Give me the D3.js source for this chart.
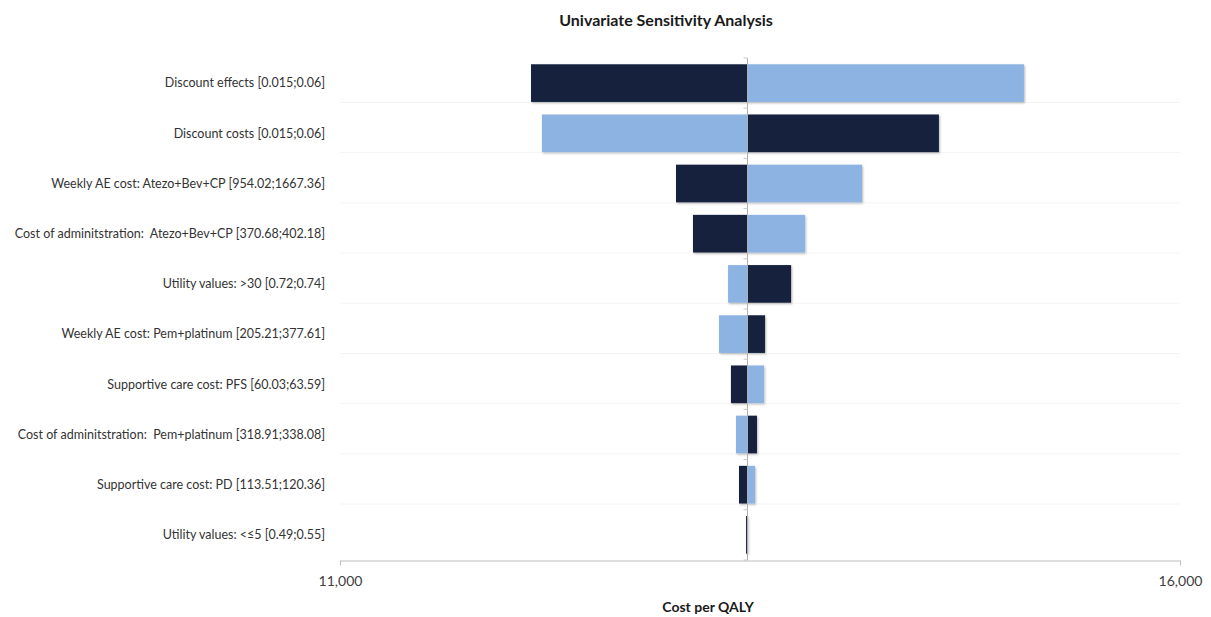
<!DOCTYPE html>
<html>
<head>
<meta charset="utf-8">
<script src="https://cdn.jsdelivr.net/npm/d3@7"></script>
<style>
  html, body { margin: 0; padding: 0; background: #fff; }
  svg { display: block; font-family: Lato, "Open Sans", sans-serif; }
  .cat { white-space: pre; }
</style>
</head>
<body>
<svg id="chart" width="1211" height="617"></svg>
<script>
// Parameters and their tested ranges
const parameters = [
  "Discount effects [0.015;0.06]",
  "Discount costs [0.015;0.06]",
  "Weekly AE cost: Atezo+Bev+CP [954.02;1667.36]",
  "Cost of adminitstration:  Atezo+Bev+CP [370.68;402.18]",
  "Utility values: >30 [0.72;0.74]",
  "Weekly AE cost: Pem+platinum [205.21;377.61]",
  "Supportive care cost: PFS [60.03;63.59]",
  "Cost of adminitstration:  Pem+platinum [318.91;338.08]",
  "Supportive care cost: PD [113.51;120.36]",
  "Utility values: <\u22645 [0.49;0.55]"
];

// Base-case cost per QALY
const baseCase = 13425;

// Cost per QALY at the lower bound of each range
const lowInput = [12137, 14565, 13000, 13101, 13685, 13530, 13327, 13482, 13375, 13417];

// Cost per QALY at the upper bound of each range
const highInput = [15071, 12202, 14107, 13768, 13310, 13256, 13524, 13357, 13470, 13428];

const xTicks = [11000, 16000];

const svg = d3.select("#chart");

const x = d3.scaleLinear().domain([11000, 16000]).range([340, 1180]);
const y = d3.scaleBand().domain(parameters).range([58, 560])
  .paddingInner(0.25).paddingOuter(0.125);

const darkColor = "#13243e";
const lightColor = "#8db3e2";

const defs = svg.append("defs");
const f = defs.append("filter").attr("id", "shadow")
  .attr("x", "-5%").attr("y", "-10%").attr("width", "110%").attr("height", "125%");
f.append("feDropShadow").attr("dx", 1).attr("dy", 1.2)
  .attr("stdDeviation", 0.8).attr("flood-color", "#000").attr("flood-opacity", 0.28);

// faint separators between rows
const step = y.step();
svg.append("g").selectAll("line")
  .data(parameters.slice(0, -1))
  .join("line")
  .attr("x1", 340).attr("x2", 1180)
  .attr("y1", d => y(d) + y.bandwidth() + 0.5)
  .attr("y2", d => y(d) + y.bandwidth() + 0.5)
  .attr("stroke", "#f4f4f4").attr("stroke-width", 1);

// Title
svg.append("text")
  .attr("x", 666).attr("y", 26)
  .attr("text-anchor", "middle")
  .attr("font-size", 16).attr("font-weight", "bold")
  .attr("fill", "#1a1a1a")
  .text("Univariate Sensitivity Analysis");

// Bars
const rows = parameters.map((p, i) => ({ p, low: lowInput[i], high: highInput[i] }));
const bars = svg.append("g").attr("filter", "url(#shadow)");

function drawBars(key, color) {
  bars.append("g").selectAll("rect")
    .data(rows)
    .join("rect")
    .attr("x", d => x(Math.min(d[key], baseCase)))
    .attr("width", d => Math.max(Math.abs(x(d[key]) - x(baseCase)), 0.6))
    .attr("y", d => y(d.p))
    .attr("height", y.bandwidth())
    .attr("fill", color);
}
drawBars("low", darkColor);
drawBars("high", lightColor);

// Vertical axis at the base case, with small ticks between categories
const vx = Math.round(x(baseCase)) + 0.5;
svg.append("line")
  .attr("x1", vx).attr("x2", vx)
  .attr("y1", 58).attr("y2", 560)
  .attr("stroke", "#b0b0b0").attr("stroke-width", 1);
svg.append("g").selectAll("line")
  .data(d3.range(0, parameters.length + 1))
  .join("line")
  .attr("x1", vx - 4).attr("x2", vx)
  .attr("y1", i => 58 + i * step).attr("y2", i => 58 + i * step)
  .attr("stroke", "#c8c8c8");

// Category labels
svg.append("g").selectAll("text")
  .data(parameters)
  .join("text")
  .attr("class", "cat")
  .attr("x", 325)
  .attr("y", d => y(d) + y.bandwidth() / 2)
  .attr("dy", "0.35em")
  .attr("text-anchor", "end")
  .attr("font-size", 12.5)
  .attr("fill", "#333")
  .text(d => d);

// Horizontal value axis
const xAxis = svg.append("g")
  .attr("transform", "translate(0,560.5)")
  .call(d3.axisBottom(x).tickValues(xTicks).tickFormat(d3.format(",")).tickSize(5).tickSizeOuter(0));
xAxis.select(".domain").attr("stroke", "#bdbdbd");
xAxis.selectAll(".tick line").attr("stroke", "#bdbdbd");
xAxis.selectAll(".tick text")
  .attr("y", 16)
  .attr("font-size", 14)
  .attr("font-family", "Lato, sans-serif")
  .attr("fill", "#404040");

// Axis title
svg.append("text")
  .attr("x", 708).attr("y", 612)
  .attr("text-anchor", "middle")
  .attr("font-size", 14).attr("font-weight", "bold")
  .attr("fill", "#1a1a1a")
  .text("Cost per QALY");
</script>
</body>
</html>
